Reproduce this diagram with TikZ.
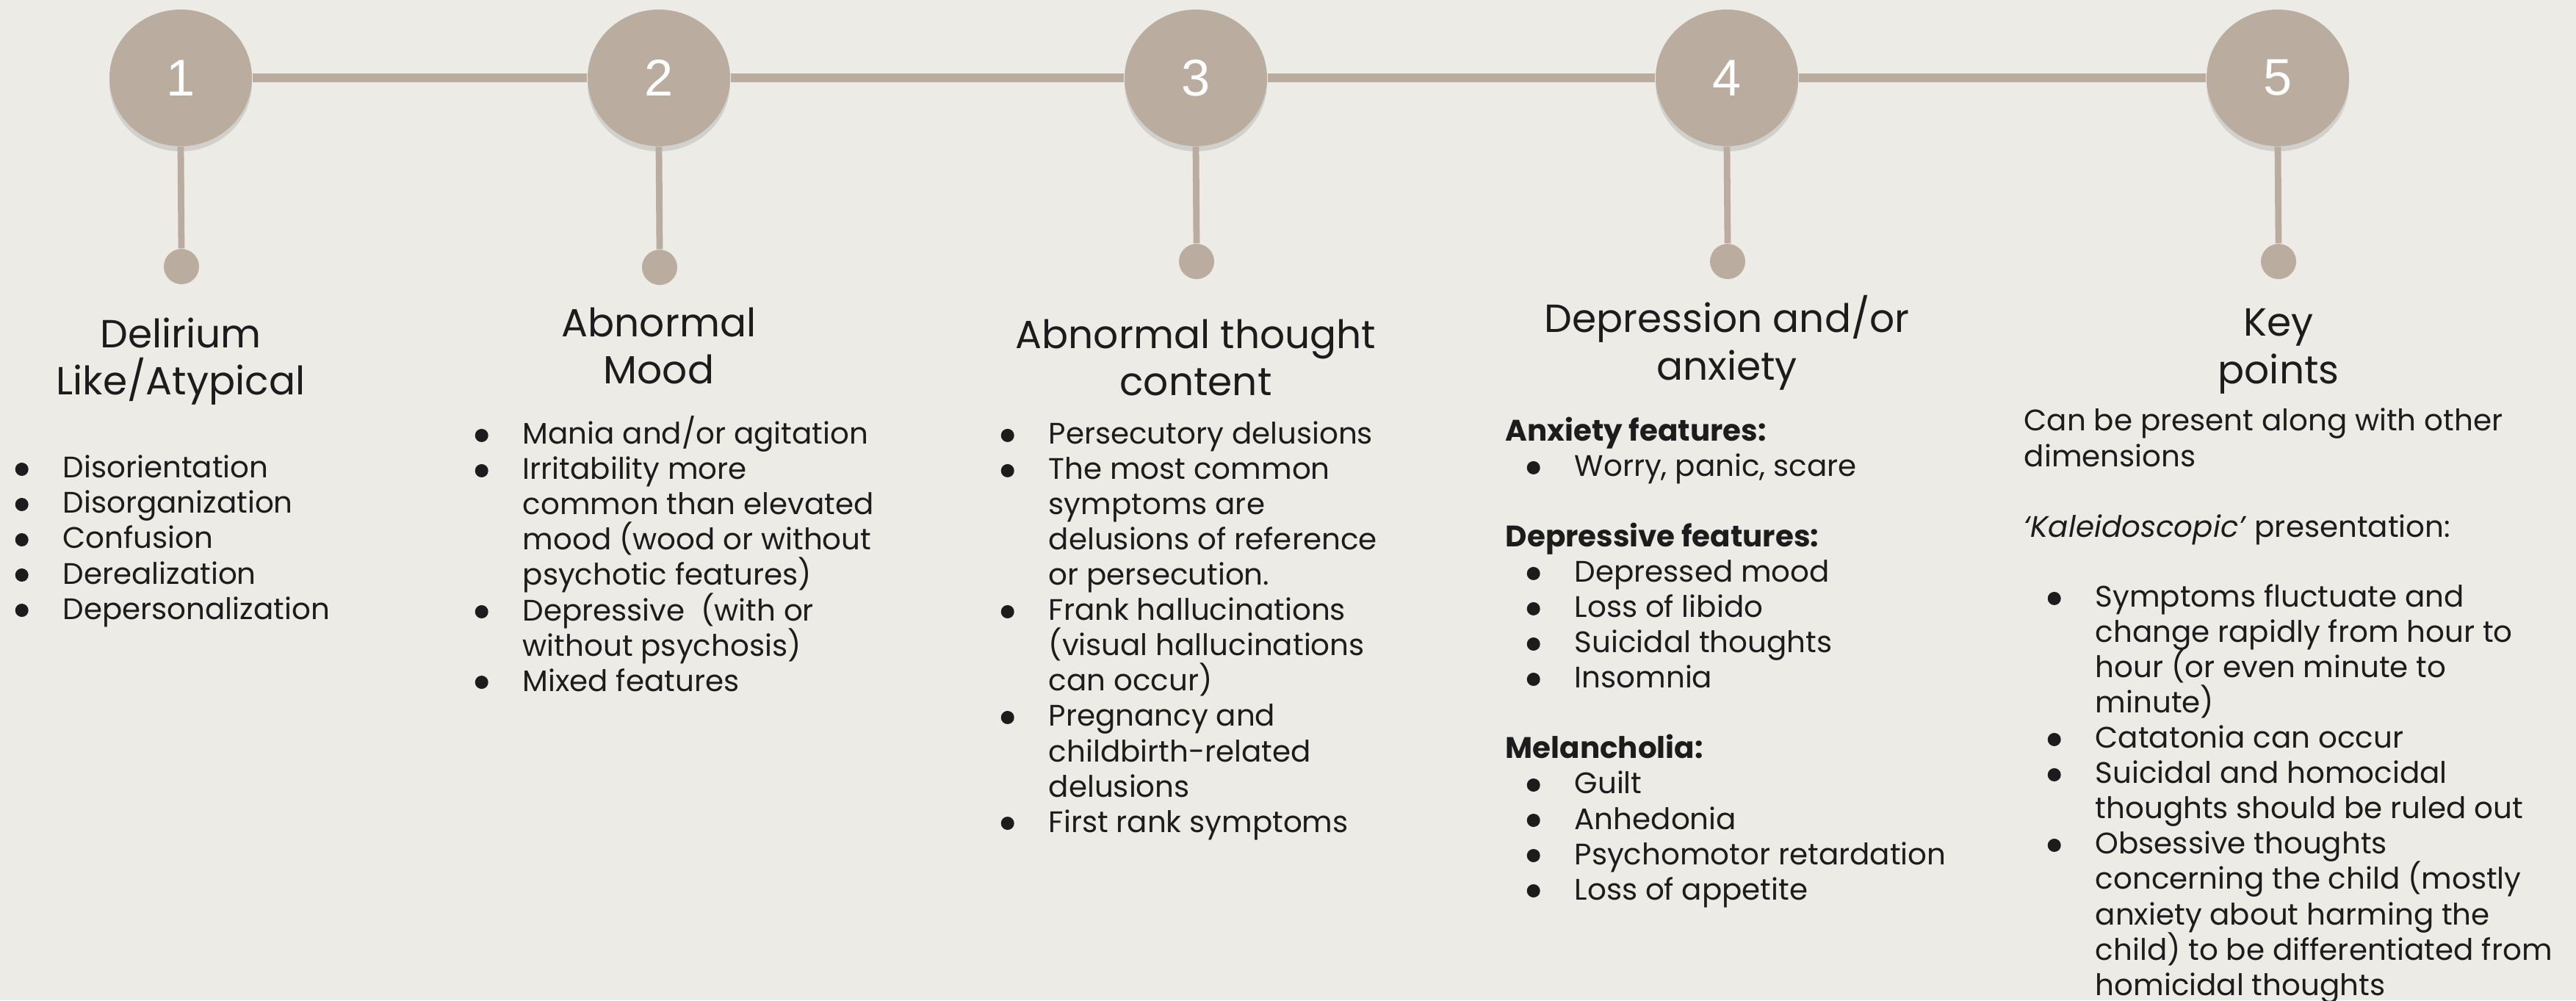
\documentclass[tikz,border=0pt]{standalone}
\usepackage{fontspec}
\setmainfont{Poppins}
\newfontfamily\numfont{Liberation Sans}
\usetikzlibrary{positioning, shapes.geometric, shadows}

\definecolor{pagebg}{HTML}{ECEBE6}
\definecolor{stone}{HTML}{BAADA0}
\definecolor{ink}{HTML}{1C1C1C}

% bullet hanging left of the text
\newcommand\bul{\llap{\tikz[baseline=-0.12cm]\fill[ink] (0,0) circle (0.09cm);\hspace{0.47cm}}}
\newcommand\ind{\hspace*{0.94cm}}
\newcommand\tightlines{\lineskiplimit=-20pt\relax}

\tikzset{
  stepcircle/.style={ellipse, fill=stone, minimum width=1.94cm, minimum height=1.86cm,
    inner sep=0pt, text=white, font=\numfont\fontsize{20}{24}\selectfont,
    drop shadow={shadow xshift=0pt, shadow yshift=-2pt, opacity=0.25}},
  pin/.style={circle, fill=stone, minimum size=0.48cm, inner sep=0pt},
  track/.style={stone, line width=3.4pt},
  stem/.style={stone, line width=2.5pt},
  title/.style={align=center, text=ink,
    font=\fontsize{15.2}{18.4}\selectfont\tightlines},
  % base of a list node = baseline of its last line
  body/.style={align=left, anchor=base west, inner sep=0pt, text=ink,
    font=\fontsize{11.5}{13.66}\selectfont\tightlines},
}

\begin{document}
\begin{tikzpicture}
  % Page
  \fill[pagebg] (0,0) rectangle (35.07,-13.62);
  \useasboundingbox (0,0) rectangle (35.07,-13.62);

  % Timeline circles
  \node[stepcircle] (C1) at (2.46,-1.06) {1};
  \node[stepcircle] (C2) at (8.97,-1.06) {2};
  \node[stepcircle] (C3) at (16.28,-1.06) {3};
  \node[stepcircle] (C4) at (23.51,-1.06) {4};
  \node[stepcircle] (C5) at (31.01,-1.06) {5};

  % Pins
  \node[pin] (D1) at (2.47,-3.63) {};
  \node[pin] (D2) at (8.98,-3.64) {};
  \node[pin] (D3) at (16.29,-3.56) {};
  \node[pin] (D4) at (23.52,-3.56) {};
  \node[pin] (D5) at (31.02,-3.56) {};

  % Connectors
  \draw[track] (C1.east) -- (C2.west);
  \draw[track] (C2.east) -- (C3.west);
  \draw[track] (C3.east) -- (C4.west);
  \draw[track] (C4.east) -- (C5.west);
  \foreach \i in {1,...,5}
    \draw[stem] (C\i.south) -- (D\i.north);

  % Titles
  \node[title] (T1) at (2.46,-4.92) {Delirium\\ Like/Atypical};
  \node[title] (T2) at (8.97,-4.71) {Abnormal\\ Mood};
  \node[title] (T3) at (16.28,-4.87) {Abnormal thought\\ content};
  \node[title] (T4) at (23.51,-4.67) {Depression and/or\\ anxiety};
  \node[title] (T5) at (31.02,-4.78) {Key\\ points};

  % Lists
  \node[body] (L1) at (0.85,-8.43) {\bul Disorientation\\ \bul Disorganization\\
    \bul Confusion\\ \bul Derealization\\ \bul Depersonalization};

  \node[body] (L2) at (7.11,-9.41) {\bul Mania and/or agitation\\
    \bul Irritability more\\ common than elevated\\ mood (wood or without\\
    psychotic features)\\ \bul Depressive~ (with or\\ without psychosis)\\
    \bul Mixed features};

  \node[body] (L3) at (14.27,-11.33) {\bul Persecutory delusions\\
    \bul The most common\\ symptoms are\\ delusions of reference\\
    or persecution.\\ \bul Frank hallucinations\\ (visual hallucinations\\
    can occur)\\ \bul Pregnancy and\\ childbirth-related\\ delusions\\
    \bul First rank symptoms};

  \node[body] (L4) at (20.49,-12.25) {\textbf{Anxiety features:}\\
    \ind\bul Worry, panic, scare\\[0.48cm]
    \textbf{Depressive features:}\\
    \ind\bul Depressed mood\\ \ind\bul Loss of libido\\
    \ind\bul Suicidal thoughts\\ \ind\bul Insomnia\\[0.48cm]
    \textbf{Melancholia:}\\
    \ind\bul Guilt\\ \ind\bul Anhedonia\\
    \ind\bul Psychomotor retardation\\ \ind\bul Loss of appetite};

  \node[body] (K1) at (27.55,-7.31) {Can be present along with other\\
    dimensions\\[0.48cm] \textit{`Kaleidoscopic'} presentation:};

  \node[body] (K2) at (28.52,-13.55) {\bul Symptoms fluctuate and\\
    change rapidly from hour to\\ hour (or even minute to\\ minute)\\
    \bul Catatonia can occur\\ \bul Suicidal and homocidal\\
    thoughts should be ruled out\\ \bul Obsessive thoughts\\
    concerning the child (mostly\\ anxiety about harming the\\
    child) to be differentiated from\\ homicidal thoughts};
\end{tikzpicture}
\end{document}
